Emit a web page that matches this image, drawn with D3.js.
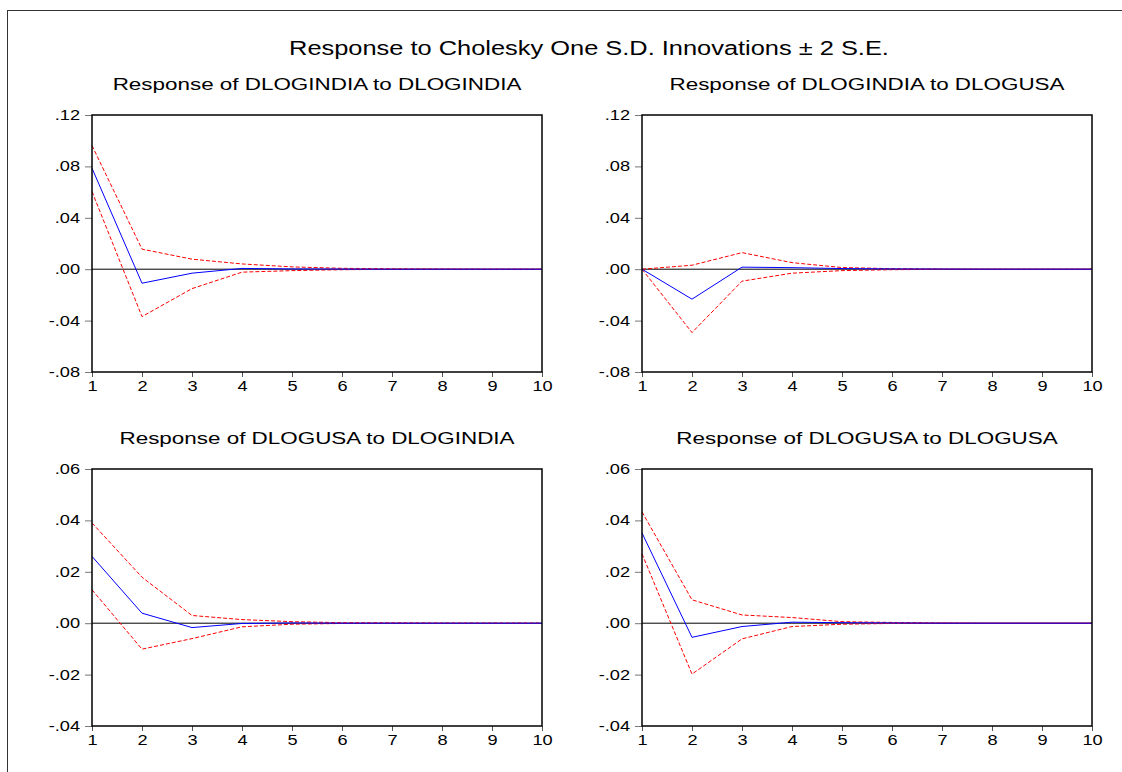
<!DOCTYPE html>
<html>
<head>
<meta charset="utf-8">
<script src="https://cdn.jsdelivr.net/npm/d3@7"></script>
<style>
  html, body { margin: 0; padding: 0; background: #fff; }
  svg { display: block; font-family: Arial, "Liberation Sans", sans-serif; }
</style>
</head>
<body>
<svg id="chart" width="1122" height="772"></svg>
<script>
const mainTitle = "Response to Cholesky One S.D. Innovations \u00b1 2 S.E."
const periods = [1, 2, 3, 4, 5, 6, 7, 8, 9, 10]

const panelTitles = [
  "Response of DLOGINDIA to DLOGINDIA",
  "Response of DLOGINDIA to DLOGUSA",
  "Response of DLOGUSA to DLOGINDIA",
  "Response of DLOGUSA to DLOGUSA",
]

const topTicks = [-0.08, -0.04, 0.00, 0.04, 0.08, 0.12]
const bottomTicks = [-0.04, -0.02, 0.00, 0.02, 0.04, 0.06]

// India to India
const indiaIndia = [0.0786, -0.0109, -0.0031, 0.0006, 0.0002, 0.0001, 0, 0, 0, 0]
const indiaIndiaUp = [0.0962, 0.0156, 0.0078, 0.0041, 0.0018, 0.0007, 0.0003, 0.0001, 0, 0]
const indiaIndiaLo = [0.0604, -0.0369, -0.0151, -0.0023, -0.0011, -0.0004, -0.0001, 0, 0, 0]

// India to USA
const indiaUsa = [0, -0.0233, 0.0016, 0.0012, 0.0005, 0.0002, 0.0001, 0, 0, 0]
const indiaUsaUp = [0, 0.0031, 0.0129, 0.0051, 0.0013, 0.0004, 0.0001, 0, 0, 0]
const indiaUsaLo = [0, -0.0493, -0.0093, -0.0031, -0.0011, -0.0004, -0.0001, 0, 0, 0]

// USA to India
const usaIndia = [0.026, 0.0039, -0.0017, -0.0001, 0.0001, 0, 0, 0, 0, 0]
const usaIndiaUp = [0.039, 0.0179, 0.003, 0.0014, 0.0006, 0.0002, 0.0001, 0, 0, 0]
const usaIndiaLo = [0.013, -0.0101, -0.006, -0.0014, -0.0004, -0.0001, 0, 0, 0, 0]

// USA to USA
const usaUsa = [0.0351, -0.0055, -0.0013, 0.0004, 0.0002, 0.0001, 0, 0, 0, 0]
const usaUsaUp = [0.0433, 0.0091, 0.0032, 0.0022, 0.0006, 0.0003, 0.0001, 0, 0, 0]
const usaUsaLo = [0.027, -0.0198, -0.0061, -0.0013, -0.0004, -0.0001, 0, 0, 0, 0]

const panels = [
  { title: panelTitles[0], ticks: topTicks, mid: indiaIndia, up: indiaIndiaUp, lo: indiaIndiaLo, left: 92, top: 115 },
  { title: panelTitles[1], ticks: topTicks, mid: indiaUsa, up: indiaUsaUp, lo: indiaUsaLo, left: 642, top: 115 },
  { title: panelTitles[2], ticks: bottomTicks, mid: usaIndia, up: usaIndiaUp, lo: usaIndiaLo, left: 92, top: 469 },
  { title: panelTitles[3], ticks: bottomTicks, mid: usaUsa, up: usaUsaUp, lo: usaUsaLo, left: 642, top: 469 },
]

const plotWidth = 450
const plotHeight = 257
// the source image is a bit wider than tall, so glyphs get stretched sideways
const stretch = 1.3

const svg = d3.select("#chart")

svg.append("rect")
  .attr("x", 7.5).attr("y", 10.5)
  .attr("width", 1130).attr("height", 780)
  .attr("fill", "none")
  .attr("stroke", "#333")
  .attr("stroke-width", 1)

svg.append("text")
  .attr("transform", `translate(589,55) scale(1.27,1)`)
  .attr("text-anchor", "middle")
  .attr("font-size", 20)
  .attr("fill", "#000")
  .text(mainTitle)

const fmt = (v) => {
  const s = d3.format(".2f")(Math.abs(v)).replace(/^0/, "")
  return v < -1e-9 ? "-" + s : s
}

panels.forEach((panel) => {
  const x = d3.scaleLinear().domain([1, 10]).range([0, plotWidth])
  const y = d3.scaleLinear()
    .domain([panel.ticks[0], panel.ticks[panel.ticks.length - 1]])
    .range([plotHeight, 0])

  const g = svg.append("g").attr("transform", `translate(${panel.left},${panel.top})`)

  svg.append("text")
    .attr("transform", `translate(${panel.left + plotWidth / 2},${panel.top - 25}) scale(1.32,1)`)
    .attr("text-anchor", "middle")
    .attr("font-size", 17)
    .attr("fill", "#000")
    .text(panel.title)

  g.append("g")
    .attr("transform", `translate(0,${plotHeight})`)
    .call(d3.axisBottom(x).tickValues(periods).tickFormat(d3.format("d")).tickSize(5).tickSizeOuter(0).tickPadding(4))
    .call((axis) => axis.select(".domain").remove())
    .call((axis) => axis.selectAll("line").attr("stroke", "#555"))
    .call((axis) => axis.selectAll("text")
      .attr("font-size", 14).attr("font-family", null).attr("fill", "#000")
      .attr("transform", `scale(${stretch},1)`))

  g.append("g")
    .call(d3.axisLeft(y).tickValues(panel.ticks).tickFormat(fmt).tickSize(7).tickSizeOuter(0).tickPadding(4))
    .call((axis) => axis.select(".domain").remove())
    .call((axis) => axis.selectAll("line").attr("stroke", "#777"))
    .call((axis) => axis.selectAll("text")
      .attr("font-size", 14).attr("font-family", null).attr("fill", "#000")
      .attr("x", -12 / stretch)
      .attr("transform", `scale(${stretch},1)`))

  g.append("line")
    .attr("x1", 0).attr("x2", plotWidth)
    .attr("y1", y(0)).attr("y2", y(0))
    .attr("stroke", "#000")
    .attr("stroke-width", 1)

  const line = d3.line()
    .x((d, i) => x(periods[i]))
    .y((d) => y(d))

  g.append("path")
    .datum(panel.up)
    .attr("d", line)
    .attr("fill", "none")
    .attr("stroke", "#ff0000")
    .attr("stroke-width", 1)
    .attr("stroke-dasharray", "4,2")

  g.append("path")
    .datum(panel.lo)
    .attr("d", line)
    .attr("fill", "none")
    .attr("stroke", "#ff0000")
    .attr("stroke-width", 1)
    .attr("stroke-dasharray", "4,2")

  g.append("path")
    .datum(panel.mid)
    .attr("d", line)
    .attr("fill", "none")
    .attr("stroke", "#0000ff")
    .attr("stroke-width", 1)

  g.append("rect")
    .attr("x", 0).attr("y", 0)
    .attr("width", plotWidth).attr("height", plotHeight)
    .attr("fill", "none")
    .attr("stroke", "#000")
    .attr("stroke-width", 1.5)
})
</script>
</body>
</html>
